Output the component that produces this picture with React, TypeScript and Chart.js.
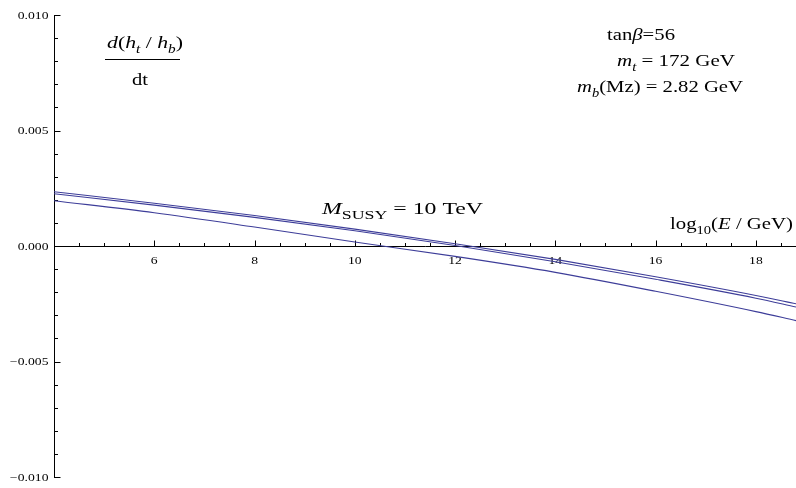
import React, { useEffect, useRef } from "react";
import { Chart, registerables } from "chart.js";

Chart.register(...registerables);

// log10(E / GeV)
const energies = [4, 6, 8, 10, 12, 14, 16, 18, 18.8];
// d(h_t/h_b)/dt for three curves
const curveUpper = [0.00235, 0.00185, 0.00132, 0.00073, 0.0001, -0.00058, -0.00133, -0.00214, -0.0025];
const curveMiddle = [0.00226, 0.00177, 0.00124, 0.00066, 0.00002, -0.00068, -0.00144, -0.00226, -0.00264];
const curveLower = [0.00196, 0.00144, 0.00082, 0.00017, -0.00045, -0.00114, -0.00196, -0.00284, -0.00323];

const xMajorTicks = [6, 8, 10, 12, 14, 16, 18];
const yMajorTicks = [-0.01, -0.005, 0, 0.005, 0.01];
const yTickLabels = ["\u22120.010", "\u22120.005", "0.000", "0.005", "0.010"];

const X_MIN = 4;
const X_MAX = 18.8;
const Y_MIN = -0.01;
const Y_MAX = 0.01;

const LINE_COLOR = "rgb(61,61,153)";
const SERIF = '"Liberation Serif", "DejaVu Serif", serif';
const TICK_STRETCH = 1.3;

type Seg = { t: string; it?: boolean; sub?: boolean };

function drawRich(
  ctx: CanvasRenderingContext2D,
  x: number,
  y: number,
  segs: Seg[],
  size: number,
  targetWidth: number,
  align: "left" | "center" = "left",
  subFactor = 0.7
) {
  const subSize = size * subFactor;
  const fontFor = (s: Seg) => `${s.it ? "italic " : ""}${s.sub ? subSize : size}px ${SERIF}`;
  let total = 0;
  const widths = segs.map((s) => {
    ctx.font = fontFor(s);
    const w = ctx.measureText(s.t).width;
    total += w;
    return w;
  });
  const sx = targetWidth / total;
  ctx.save();
  ctx.translate(align === "center" ? x - targetWidth / 2 : x, y);
  ctx.scale(sx, 1);
  ctx.textAlign = "left";
  ctx.textBaseline = "alphabetic";
  let cx = 0;
  segs.forEach((s, i) => {
    ctx.font = fontFor(s);
    ctx.fillText(s.t, cx, s.sub ? size * 0.28 : 0);
    cx += widths[i];
  });
  ctx.restore();
}

function stretchedText(ctx: CanvasRenderingContext2D, text: string, x: number, y: number) {
  ctx.save();
  ctx.translate(x, y);
  ctx.scale(TICK_STRETCH, 1);
  ctx.fillText(text, 0, 0);
  ctx.restore();
}

const axesPlugin = {
  id: "mmaAxes",
  beforeDatasetsDraw(chart: any) {
    const ctx: CanvasRenderingContext2D = chart.ctx;
    const xs = chart.scales.x;
    const ys = chart.scales.y;
    const ax = Math.round(xs.getPixelForValue(X_MIN)) + 0.5;
    const ay = Math.round(ys.getPixelForValue(0)) + 0.5;
    ctx.save();
    ctx.strokeStyle = "#000";
    ctx.lineWidth = 1;
    ctx.beginPath();
    ctx.moveTo(ax, Math.round(ys.getPixelForValue(Y_MAX)));
    ctx.lineTo(ax, Math.round(ys.getPixelForValue(Y_MIN)) + 1);
    ctx.moveTo(ax, ay);
    ctx.lineTo(xs.getPixelForValue(X_MAX), ay);
    // y ticks (every 0.001, major every 0.005)
    for (let i = -10; i <= 10; i++) {
      const py = Math.round(ys.getPixelForValue(i / 1000)) + 0.5;
      const len = i % 5 === 0 ? 6 : 3.5;
      ctx.moveTo(ax, py);
      ctx.lineTo(ax + len, py);
    }
    // x ticks (every 0.5, major every 2)
    for (let i = 9; i <= 37; i++) {
      const v = i / 2;
      if (v > X_MAX) break;
      const px = Math.round(xs.getPixelForValue(v)) + 0.5;
      const len = v % 2 === 0 ? 6 : 3.5;
      ctx.moveTo(px, ay);
      ctx.lineTo(px, ay - len);
    }
    ctx.stroke();

    ctx.fillStyle = "#000";
    ctx.font = `10.5px ${SERIF}`;
    ctx.textAlign = "right";
    ctx.textBaseline = "middle";
    yMajorTicks.forEach((v, i) => {
      stretchedText(ctx, yTickLabels[i], ax - 6, ys.getPixelForValue(v) + 1);
    });
    ctx.textAlign = "center";
    ctx.textBaseline = "top";
    xMajorTicks.forEach((v) => {
      stretchedText(ctx, String(v), xs.getPixelForValue(v), ay + 9);
    });
    ctx.restore();
  },
  afterDraw(chart: any) {
    const ctx: CanvasRenderingContext2D = chart.ctx;
    ctx.save();
    ctx.fillStyle = "#000";
    // fraction label
    drawRich(ctx, 145, 48, [
      { t: "d", it: true }, { t: "(" }, { t: "h", it: true }, { t: "t", it: true, sub: true },
      { t: " / " }, { t: "h", it: true }, { t: "b", it: true, sub: true }, { t: ")" },
    ], 17, 76, "center");
    ctx.strokeStyle = "#000";
    ctx.lineWidth = 1;
    ctx.beginPath();
    ctx.moveTo(105, 59.5);
    ctx.lineTo(180, 59.5);
    ctx.stroke();
    drawRich(ctx, 140, 85, [{ t: "dt" }], 17, 16, "center");

    // parameters
    drawRich(ctx, 607, 40, [{ t: "tan" }, { t: "\u03b2", it: true }, { t: "=56" }], 17, 68);
    drawRich(ctx, 617, 66, [{ t: "m", it: true }, { t: "t", it: true, sub: true }, { t: " = 172 GeV" }], 17, 118);
    drawRich(ctx, 577, 92, [{ t: "m", it: true }, { t: "b", it: true, sub: true }, { t: "(Mz) = 2.82 GeV" }], 17, 166);

    drawRich(ctx, 322, 214, [{ t: "M", it: true }, { t: "SUSY", sub: true }, { t: " = 10 TeV" }], 17, 161, "left", 0.75);
    drawRich(ctx, 670, 229, [{ t: "log" }, { t: "10", sub: true }, { t: "(" }, { t: "E", it: true }, { t: " / GeV)" }], 17, 123);
    ctx.restore();
  },
};

export default function App() {
  const ref = useRef<HTMLCanvasElement | null>(null);
  useEffect(() => {
    if (!ref.current) return;
    const mk = (ys: number[]) => ({
      data: energies.map((x, i) => ({ x, y: ys[i] })),
      borderColor: LINE_COLOR,
      borderWidth: 1.1,
      pointRadius: 0,
      cubicInterpolationMode: "monotone" as const,
      fill: false,
    });
    const chart = new Chart(ref.current, {
      type: "line",
      data: { datasets: [mk(curveUpper), mk(curveMiddle), mk(curveLower)] },
      options: {
        animation: false,
        responsive: false,
        layout: { padding: { left: 54, top: 15, right: 0, bottom: 11 } },
        plugins: { legend: { display: false }, tooltip: { enabled: false } },
        scales: {
          x: { type: "linear", min: X_MIN, max: X_MAX, display: false },
          y: { type: "linear", min: Y_MIN, max: Y_MAX, display: false },
        },
      },
      plugins: [axesPlugin],
    });
    return () => chart.destroy();
  }, []);
  return (
    <div style={{ position: "fixed", left: 0, top: 0, width: 796, height: 488, background: "#fff" }}>
      <canvas ref={ref} width={796} height={488} />
    </div>
  );
}
